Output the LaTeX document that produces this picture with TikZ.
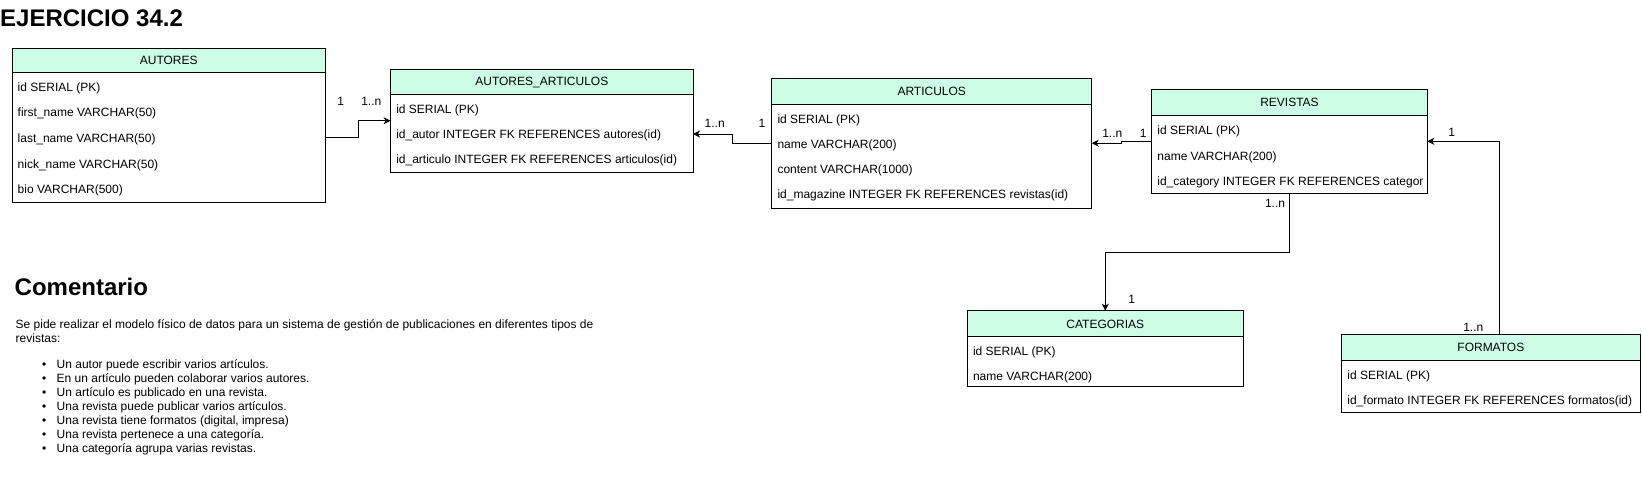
\documentclass[tikz,border=0pt]{standalone}
\usepackage{fontspec}
\setmainfont{Liberation Sans}
\usetikzlibrary{calc,arrows.meta}
\definecolor{mint}{HTML}{CCFFE6}
\begin{document}
\begin{tikzpicture}[x=1pt,y=-1pt,
  tbl/.style={draw=black,line width=1pt,outer sep=0pt,inner sep=0pt,anchor=north west},
  hdr/.style={draw=black,line width=1pt,fill=mint,outer sep=0pt,inner sep=0pt,anchor=north west,
    font=\fontsize{12}{14}\selectfont,text height=8.6pt,text depth=0pt},
  rowtxt/.style={anchor=base west,inner sep=0pt,font=\fontsize{12}{14}\selectfont},
  card/.style={anchor=base,inner sep=0pt,font=\fontsize{12}{14}\selectfont},
  conn/.style={draw=black,line width=1pt,-{Stealth[length=7pt,width=7pt,inset=2pt]}},
  bigtitle/.style={anchor=base west,inner sep=0pt,font=\fontsize{24}{28}\selectfont\bfseries},
  bodytxt/.style={anchor=base west,inner sep=0pt,font=\fontsize{12}{14}\selectfont},
]
\useasboundingbox (0,0) rectangle (1642,479);

% Title
\node[bigtitle] (title) at (0,26) {EJERCICIO 34.2};

% AUTORES
\node[tbl,minimum width=313.5pt,minimum height=154pt] (autores) at (12,48) {};
\node[hdr,minimum width=313.5pt,minimum height=24pt] (autoresH) at (12,48) {AUTORES};
\node[rowtxt] (au1) at (17.5,91.3) {id SERIAL (PK)};
\node[rowtxt] (au2) at (17.5,116.8) {first\_name VARCHAR(50)};
\node[rowtxt] (au3) at (17.5,142.3) {last\_name VARCHAR(50)};
\node[rowtxt] (au4) at (17.5,168) {nick\_name VARCHAR(50)};
\node[rowtxt] (au5) at (17.5,193.8) {bio VARCHAR(500)};

% AUTORES_ARTICULOS
\node[tbl,minimum width=302.4pt,minimum height=103.5pt] (aa) at (390.6,69) {};
\node[hdr,minimum width=302.4pt,minimum height=25pt] (aaH) at (390.6,69) {AUTORES\_ARTICULOS};
\node[rowtxt] (aa1) at (396.1,113.3) {id SERIAL (PK)};
\node[rowtxt] (aa2) at (396.1,138.3) {id\_autor INTEGER FK REFERENCES autores(id)};
\node[rowtxt] (aa3) at (396.1,163.8) {id\_articulo INTEGER FK REFERENCES articulos(id)};

% ARTICULOS
\node[tbl,minimum width=319.9pt,minimum height=129.6pt] (art) at (771.8,78.4) {};
\node[hdr,minimum width=319.9pt,minimum height=25.6pt] (artH) at (771.8,78.4) {ARTICULOS};
\node[rowtxt] (ar1) at (777.3,123.6) {id SERIAL (PK)};
\node[rowtxt] (ar2) at (777.3,148.3) {name VARCHAR(200)};
\node[rowtxt] (ar3) at (777.3,173.3) {content VARCHAR(1000)};
\node[rowtxt] (ar4) at (777.3,198.3) {id\_magazine INTEGER FK REFERENCES revistas(id)};

% REVISTAS
\node[tbl,minimum width=275.6pt,minimum height=104pt] (rev) at (1151.7,89.3) {};
\node[hdr,minimum width=275.6pt,minimum height=25.7pt] (revH) at (1151.7,89.3) {REVISTAS};
\node[rowtxt] (rv1) at (1157.2,134.3) {id SERIAL (PK)};
\node[rowtxt] (rv2) at (1157.2,160.3) {name VARCHAR(200)};
\node[rowtxt] (rv3) at (1157.2,185.3) {id\_category INTEGER FK REFERENCES categor};

% CATEGORIAS
\node[tbl,minimum width=276pt,minimum height=76pt] (cat) at (967.3,310.7) {};
\node[hdr,minimum width=276pt,minimum height=26pt] (catH) at (967.3,310.7) {CATEGORIAS};
\node[rowtxt] (ca1) at (972.8,355.8) {id SERIAL (PK)};
\node[rowtxt] (ca2) at (972.8,380.8) {name VARCHAR(200)};

% FORMATOS
\node[tbl,minimum width=298.3pt,minimum height=78pt] (fmt) at (1341.7,334) {};
\node[hdr,minimum width=298.3pt,minimum height=26pt] (fmtH) at (1341.7,334) {FORMATOS};
\node[rowtxt] (fo1) at (1347.2,379.3) {id SERIAL (PK)};
\node[rowtxt] (fo2) at (1347.2,404.3) {id\_formato INTEGER FK REFERENCES formatos(id)};

% Connectors
\draw[conn] ($(autores.north east)+(0,89.3)$) -- ++(33.2,0) |- (aa.west);
\draw[conn] (art.west) -- ++(-39.5,0) |- ($(aa.north east)+(0,65)$);
\draw[conn] (rev.west) -- ++(-29.9,0) |- (art.east);
\draw[conn] (rev.south) -- ++(0,59) -| (cat.north);
\draw[conn] ($(fmt.north west)+(157.6,0)$) |- (rev.east);

% Cardinality labels
\node[card] (l1) at (340.7,105.6) {1};
\node[card] (l2) at (371.3,105.6) {1..n};
\node[card] (l3) at (714.7,127.3) {1..n};
\node[card] (l4) at (762,127.3) {1};
\node[card] (l5) at (1112.3,137.3) {1..n};
\node[card] (l6) at (1143.3,137.3) {1};
\node[card] (l7) at (1275,207.6) {1..n};
\node[card] (l8) at (1131.7,303.6) {1};
\node[card] (l9) at (1451.7,136.3) {1};
\node[card] (l10) at (1473.3,331) {1..n};

% Comentario
\node[bigtitle] (coment) at (14.5,295.6) {Comentario};
\node[bodytxt] (p1) at (15.5,328.9) {Se pide realizar el modelo físico de datos para un sistema de gestión de publicaciones en diferentes tipos de};
\node[bodytxt] (p2) at (15.5,342.5) {revistas:};
\node[bodytxt] (b1) at (56.5,368.7) {\llap{\textbullet\hspace{10.4pt}}Un autor puede escribir varios artículos.};
\node[bodytxt] (b2) at (56.5,382.7) {\llap{\textbullet\hspace{10.4pt}}En un artículo pueden colaborar varios autores.};
\node[bodytxt] (b3) at (56.5,396.6) {\llap{\textbullet\hspace{10.4pt}}Un artículo es publicado en una revista.};
\node[bodytxt] (b4) at (56.5,410.6) {\llap{\textbullet\hspace{10.4pt}}Una revista puede publicar varios artículos.};
\node[bodytxt] (b5) at (56.5,424.6) {\llap{\textbullet\hspace{10.4pt}}Una revista tiene formatos (digital, impresa)};
\node[bodytxt] (b6) at (56.5,438.5) {\llap{\textbullet\hspace{10.4pt}}Una revista pertenece a una categoría.};
\node[bodytxt] (b7) at (56.5,452.5) {\llap{\textbullet\hspace{10.4pt}}Una categoría agrupa varias revistas.};
\end{tikzpicture}
\end{document}
